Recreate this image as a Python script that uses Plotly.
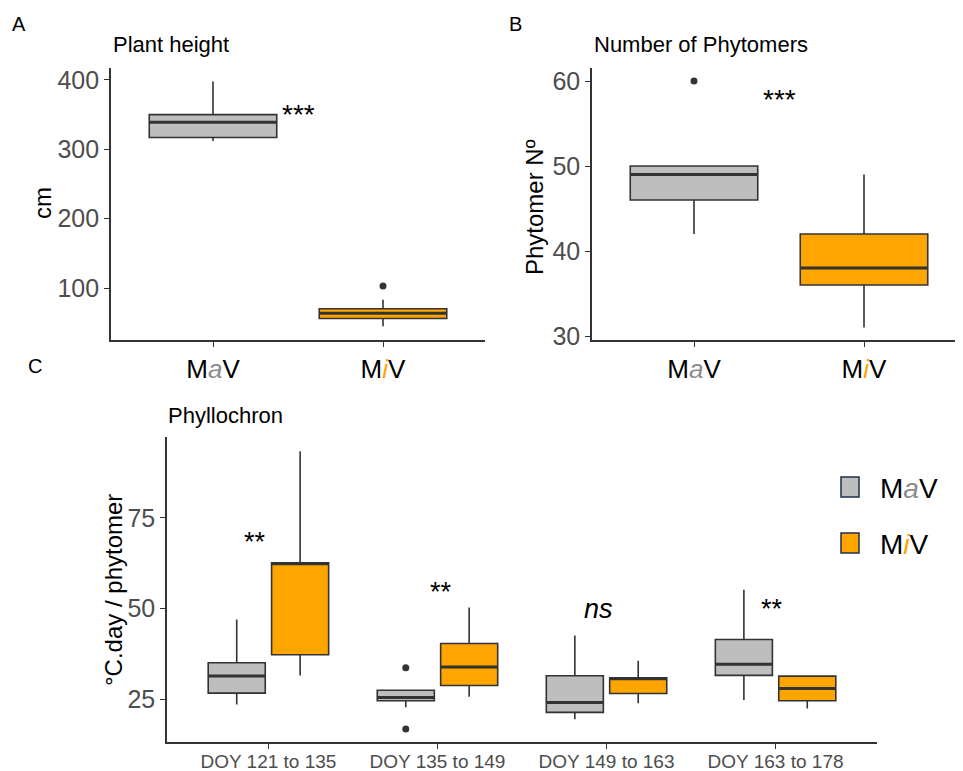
import plotly.graph_objects as go

# ---------------- data ----------------
groups = ["MaV", "MiV"]
group_ticktext = ["M<i><span style='color:#8C8C8C'>a</span></i>V",
                  "M<i><span style='color:#FFA500'>i</span></i>V"]

# Panel A: plant height (cm)
height_lower = [312, 45]
height_q1 = [317, 56]
height_median = [339, 63.5]
height_q3 = [350, 70]
height_upper = [398, 83]
height_outliers = [[], [103]]

# Panel B: number of phytomers
phyt_lower = [42, 31]
phyt_q1 = [46, 36]
phyt_median = [49, 38]
phyt_q3 = [50, 42]
phyt_upper = [50, 49]
phyt_outliers = [[60], []]

# Panel C: phyllochron
periods = ["DOY 121 to 135", "DOY 135 to 149", "DOY 149 to 163", "DOY 163 to 178"]
mav_lower = [23.6, 22.8, 19.5, 24.8]
mav_q1 = [26.7, 24.6, 21.4, 31.6]
mav_median = [31.4, 25.5, 24.1, 34.7]
mav_q3 = [35.1, 27.5, 31.5, 41.5]
mav_upper = [47.0, 27.5, 42.6, 55.2]
mav_outliers = [[], [33.7, 16.8], [], []]

miv_lower = [31.6, 25.7, 23.9, 22.5]
miv_q1 = [37.3, 28.8, 26.6, 24.6]
miv_median = [62.4, 33.9, 30.7, 28.0]
miv_q3 = [62.6, 40.4, 30.9, 31.4]
miv_upper = [93.4, 50.3, 35.6, 31.4]
miv_outliers = [[], [], [], []]

# significance labels
sigA_label, sigA_x, sigA_y = "***", 1.5, 360
sigB_label, sigB_x, sigB_y = "***", 1.5, 58.6
sigC_labels = ["**", "**", "<i>ns</i>", "**"]
sigC_x = [0.92, 2.02, 2.95, 3.98]
sigC_y = [70.2, 56.4, 50.0, 51.7]

# ---------------- style ----------------
GREY = "#BEBEBE"
ORANGE = "#FFA500"
LINE = "#333333"
FONT = "Liberation Sans, Arial, sans-serif"

# page body has an 8px default margin: lay out relative to the shifted canvas
OFF = 8
W, H = 963 - OFF, 771 - OFF


def px(x):
    return (x - OFF) / W


def py(y):
    return 1 - (y - OFF) / H


fig = go.Figure()


def add_box(xpos, w, lo, q1, med, q3, up, outl, fill, xa, ya):
    fig.add_trace(go.Box(
        x=[xpos], q1=[q1], median=[med], q3=[q3], lowerfence=[lo], upperfence=[up],
        width=w, fillcolor=fill, line=dict(color=LINE, width=1.6), whiskerwidth=0,
        boxpoints=False, showlegend=False, hoverinfo="skip",
        xaxis=xa, yaxis=ya))
    # thicker median (ggplot style)
    fig.add_trace(go.Scatter(
        x=[xpos - w / 2, xpos + w / 2], y=[med, med], mode="lines",
        line=dict(color=LINE, width=3), showlegend=False, hoverinfo="skip",
        xaxis=xa, yaxis=ya))
    if outl:
        fig.add_trace(go.Scatter(
            x=[xpos] * len(outl), y=outl, mode="markers",
            marker=dict(color=LINE, size=7), showlegend=False, hoverinfo="skip",
            xaxis=xa, yaxis=ya))


fills = [GREY, ORANGE]
for i in range(2):
    add_box(i + 1, 0.75, height_lower[i], height_q1[i], height_median[i], height_q3[i],
            height_upper[i], height_outliers[i], fills[i], "x", "y")
    add_box(i + 1, 0.75, phyt_lower[i], phyt_q1[i], phyt_median[i], phyt_q3[i],
            phyt_upper[i], phyt_outliers[i], fills[i], "x2", "y2")

dodge = 0.1875
bw = 0.3375
for j in range(len(periods)):
    add_box(j + 1 - dodge, bw, mav_lower[j], mav_q1[j], mav_median[j], mav_q3[j],
            mav_upper[j], mav_outliers[j], GREY, "x3", "y3")
    add_box(j + 1 + dodge, bw, miv_lower[j], miv_q1[j], miv_median[j], miv_q3[j],
            miv_upper[j], miv_outliers[j], ORANGE, "x3", "y3")

axis_common = dict(showline=True, linecolor=LINE, linewidth=1.6, ticks="outside",
                   tickcolor=LINE, ticklen=5, tickwidth=1.4, showgrid=False,
                   zeroline=False, mirror=False, automargin=False)

# right edge of panel B coincides with the window edge
b_right = min(1.0, px(963))
b_range_hi = 0.4 + 2.2 * (963 - 592) / (966 - 592)

fig.update_layout(
    width=W, height=H, margin=dict(l=0, r=0, t=0, b=0),
    paper_bgcolor="white", plot_bgcolor="white",
    font=dict(family=FONT, color="black"),
    boxmode="overlay",
    xaxis=dict(domain=[px(111), px(485)], range=[0.4, 2.6], tickvals=[1, 2],
               ticktext=group_ticktext, tickfont=dict(size=26, color="black"),
               anchor="y", **axis_common),
    yaxis=dict(domain=[py(340), py(68)], range=[25, 417.3], tickvals=[100, 200, 300, 400],
               tickfont=dict(size=25, color="#4D4D4D"), anchor="x", **axis_common),
    xaxis2=dict(domain=[px(592), b_right], range=[0.4, b_range_hi], tickvals=[1, 2],
                ticktext=group_ticktext, tickfont=dict(size=26, color="black"),
                anchor="y2", **axis_common),
    yaxis2=dict(domain=[py(340), py(68)], range=[29.53, 61.53], tickvals=[30, 40, 50, 60],
                tickfont=dict(size=25, color="#4D4D4D"), anchor="x2", **axis_common),
    xaxis3=dict(domain=[px(167), px(877)], range=[0.4, 4.6], tickvals=[1, 2, 3, 4],
                ticktext=periods, tickfont=dict(size=19, color="#4D4D4D"),
                ticklabelstandoff=-4, anchor="y3", **axis_common),
    yaxis3=dict(domain=[py(742), py(437)], range=[13.24, 97.3], tickvals=[25, 50, 75],
                tickfont=dict(size=25, color="#4D4D4D"), anchor="x3", **axis_common),
)

ann = []
# panel letters
for txt, x, y in [("A", 10, 24), ("B", 507, 24), ("C", 26, 366)]:
    ann.append(dict(text=txt, x=px(x), y=py(y), xref="paper", yref="paper",
                    xanchor="left", yanchor="middle", showarrow=False,
                    font=dict(size=20, color="black")))
# panel titles
for txt, x, y in [("Plant height", 111, 45), ("Number of Phytomers", 592, 45),
                  ("Phyllochron", 166, 415)]:
    ann.append(dict(text=txt, x=px(x), y=py(y), xref="paper", yref="paper",
                    xanchor="left", yanchor="middle", showarrow=False,
                    font=dict(size=22, color="black")))
# y axis titles
for txt, x, y in [("cm", 42, 203), ("Phytomer Nº", 535, 207), ("°C.day / phytomer", 113, 590)]:
    ann.append(dict(text=txt, x=px(x), y=py(y), xref="paper", yref="paper",
                    xanchor="center", yanchor="middle", textangle=-90, showarrow=False,
                    font=dict(size=24, color="black")))
# significance
ann.append(dict(text=sigA_label, x=sigA_x, y=sigA_y, xref="x", yref="y", showarrow=False,
                yshift=-7, font=dict(size=28, color="black")))
ann.append(dict(text=sigB_label, x=sigB_x, y=sigB_y, xref="x2", yref="y2", showarrow=False,
                yshift=-7, font=dict(size=28, color="black")))
for lab, x, y in zip(sigC_labels, sigC_x, sigC_y):
    ann.append(dict(text=lab, x=x, y=y, xref="x3", yref="y3", showarrow=False,
                    yshift=-7 if "*" in lab else 0,
                    font=dict(size=27, color="black")))

# manual legend
legend_labels = group_ticktext
legend_fills = [GREY, ORANGE]
shapes = []
for k, (lab, fc) in enumerate(zip(legend_labels, legend_fills)):
    top = 477 + k * 56
    shapes.append(dict(type="rect", xref="paper", yref="paper",
                       x0=px(841), x1=px(859), y0=py(top + 20), y1=py(top),
                       fillcolor=fc, line=dict(color="#1F2F4F", width=1.5)))
    ann.append(dict(text=lab, x=px(878), y=py(top + 11), xref="paper", yref="paper",
                    xanchor="left", yanchor="middle", showarrow=False,
                    font=dict(size=28, color="black")))

fig.update_layout(annotations=ann, shapes=shapes)
fig.write_html("out.html")
